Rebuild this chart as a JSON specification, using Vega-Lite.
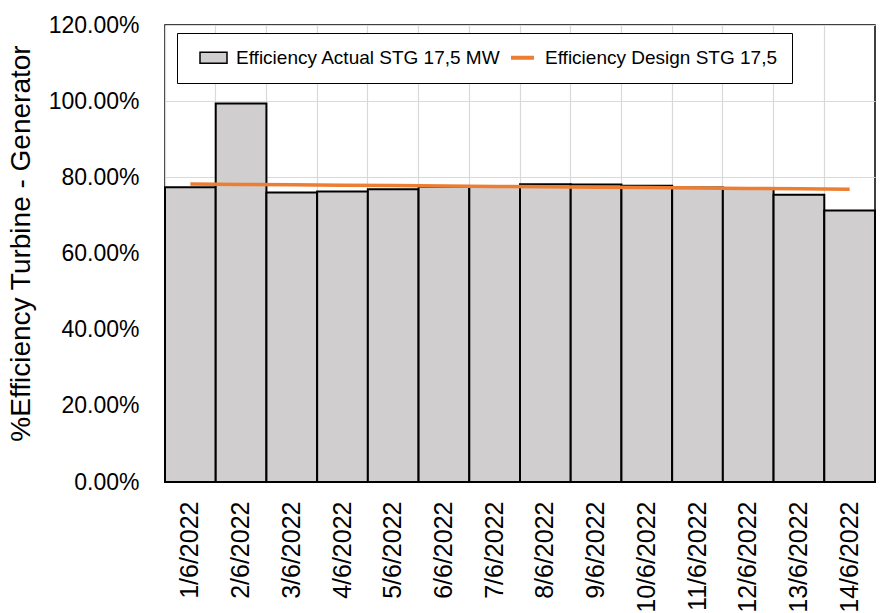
{
  "$schema": "https://vega.github.io/schema/vega-lite/v6.json",
  "width": 710,
  "height": 457,
  "autosize": {"type": "none"},
  "padding": {"left": 165, "top": 25, "right": 17, "bottom": 131},
  "background": "white",
  "config": {
    "font": "Liberation Sans",
    "view": {"stroke": "black", "strokeWidth": 1.5},
    "axis": {"labelFont": "Liberation Sans", "titleFont": "Liberation Sans", "labelColor": "black", "titleColor": "black", "gridColor": "#d9d9d9", "gridWidth": 1.2}
  },
  "datasets": {
    "actual": [
      {"date": "1/6/2022", "series": "Efficiency Actual STG 17,5 MW", "value": 0.774},
      {"date": "2/6/2022", "series": "Efficiency Actual STG 17,5 MW", "value": 0.994},
      {"date": "3/6/2022", "series": "Efficiency Actual STG 17,5 MW", "value": 0.760},
      {"date": "4/6/2022", "series": "Efficiency Actual STG 17,5 MW", "value": 0.763},
      {"date": "5/6/2022", "series": "Efficiency Actual STG 17,5 MW", "value": 0.769},
      {"date": "6/6/2022", "series": "Efficiency Actual STG 17,5 MW", "value": 0.775},
      {"date": "7/6/2022", "series": "Efficiency Actual STG 17,5 MW", "value": 0.776},
      {"date": "8/6/2022", "series": "Efficiency Actual STG 17,5 MW", "value": 0.782},
      {"date": "9/6/2022", "series": "Efficiency Actual STG 17,5 MW", "value": 0.781},
      {"date": "10/6/2022", "series": "Efficiency Actual STG 17,5 MW", "value": 0.778},
      {"date": "11/6/2022", "series": "Efficiency Actual STG 17,5 MW", "value": 0.773},
      {"date": "12/6/2022", "series": "Efficiency Actual STG 17,5 MW", "value": 0.772},
      {"date": "13/6/2022", "series": "Efficiency Actual STG 17,5 MW", "value": 0.754},
      {"date": "14/6/2022", "series": "Efficiency Actual STG 17,5 MW", "value": 0.713}
    ],
    "design": [
      {"date": "1/6/2022", "series": "Efficiency Design STG 17,5", "value": 0.7825},
      {"date": "2/6/2022", "series": "Efficiency Design STG 17,5", "value": 0.7815},
      {"date": "3/6/2022", "series": "Efficiency Design STG 17,5", "value": 0.7804},
      {"date": "4/6/2022", "series": "Efficiency Design STG 17,5", "value": 0.7794},
      {"date": "5/6/2022", "series": "Efficiency Design STG 17,5", "value": 0.7783},
      {"date": "6/6/2022", "series": "Efficiency Design STG 17,5", "value": 0.7772},
      {"date": "7/6/2022", "series": "Efficiency Design STG 17,5", "value": 0.7762},
      {"date": "8/6/2022", "series": "Efficiency Design STG 17,5", "value": 0.7751},
      {"date": "9/6/2022", "series": "Efficiency Design STG 17,5", "value": 0.7741},
      {"date": "10/6/2022", "series": "Efficiency Design STG 17,5", "value": 0.7730},
      {"date": "11/6/2022", "series": "Efficiency Design STG 17,5", "value": 0.7720},
      {"date": "12/6/2022", "series": "Efficiency Design STG 17,5", "value": 0.7709},
      {"date": "13/6/2022", "series": "Efficiency Design STG 17,5", "value": 0.7699},
      {"date": "14/6/2022", "series": "Efficiency Design STG 17,5", "value": 0.7688}
    ]
  },
  "encoding": {
    "x": {
      "field": "date", "type": "nominal", "sort": null,
      "scale": {"paddingInner": 0, "paddingOuter": 0},
      "axis": {"title": null, "labelAngle": -90, "labelFontSize": 25, "labelPadding": 19, "ticks": false, "domain": false, "grid": true, "bandPosition": 0}
    },
    "y": {
      "field": "value", "type": "quantitative",
      "scale": {"domain": [0, 1.2], "nice": false},
      "axis": {"title": "%Efficiency Turbine - Generator", "format": ".2%", "values": [0, 0.2, 0.4, 0.6, 0.8, 1.0, 1.2], "labelFontSize": 23, "titleFontSize": 28, "titleFontWeight": "normal", "labelPadding": 26, "ticks": false, "domain": false, "titlePadding": 13, "titleY": 218}
    },
    "color": {
      "field": "series", "type": "nominal",
      "scale": {"domain": ["Efficiency Actual STG 17,5 MW", "Efficiency Design STG 17,5"], "range": ["#000000", "#ed7d31"]},
      "legend": {
        "title": null, "orient": "none", "legendX": 12, "legendY": 8, "direction": "horizontal",
        "fillColor": "white", "strokeColor": "black", "padding": 15,
        "labelFontSize": 19, "labelFont": "Liberation Sans", "labelColor": "black", "labelLimit": 500,
        "symbolSize": 729, "symbolOffset": 12, "columnPadding": 0, "labelOffset": 13,
        "symbolFillColor": "#d0cece",
        "encode": {
          "symbols": {
            "update": {
              "shape": {"signal": "datum.value === 'Efficiency Design STG 17,5' ? 'M-0.85,0H0.85' : 'M-1,-0.4H1V0.4H-1Z'"},
              "strokeWidth": {"signal": "datum.value === 'Efficiency Design STG 17,5' ? 4 : 1.5"}
            }
          }
        }
      }
    }
  },
  "layer": [
    {
      "data": {"name": "actual"},
      "mark": {"type": "bar", "filled": false, "fill": "#d0cece", "strokeWidth": 2, "opacity": 1}
    },
    {
      "data": {"name": "design"},
      "mark": {"type": "line", "strokeWidth": 3.5, "clip": false}
    }
  ]
}
